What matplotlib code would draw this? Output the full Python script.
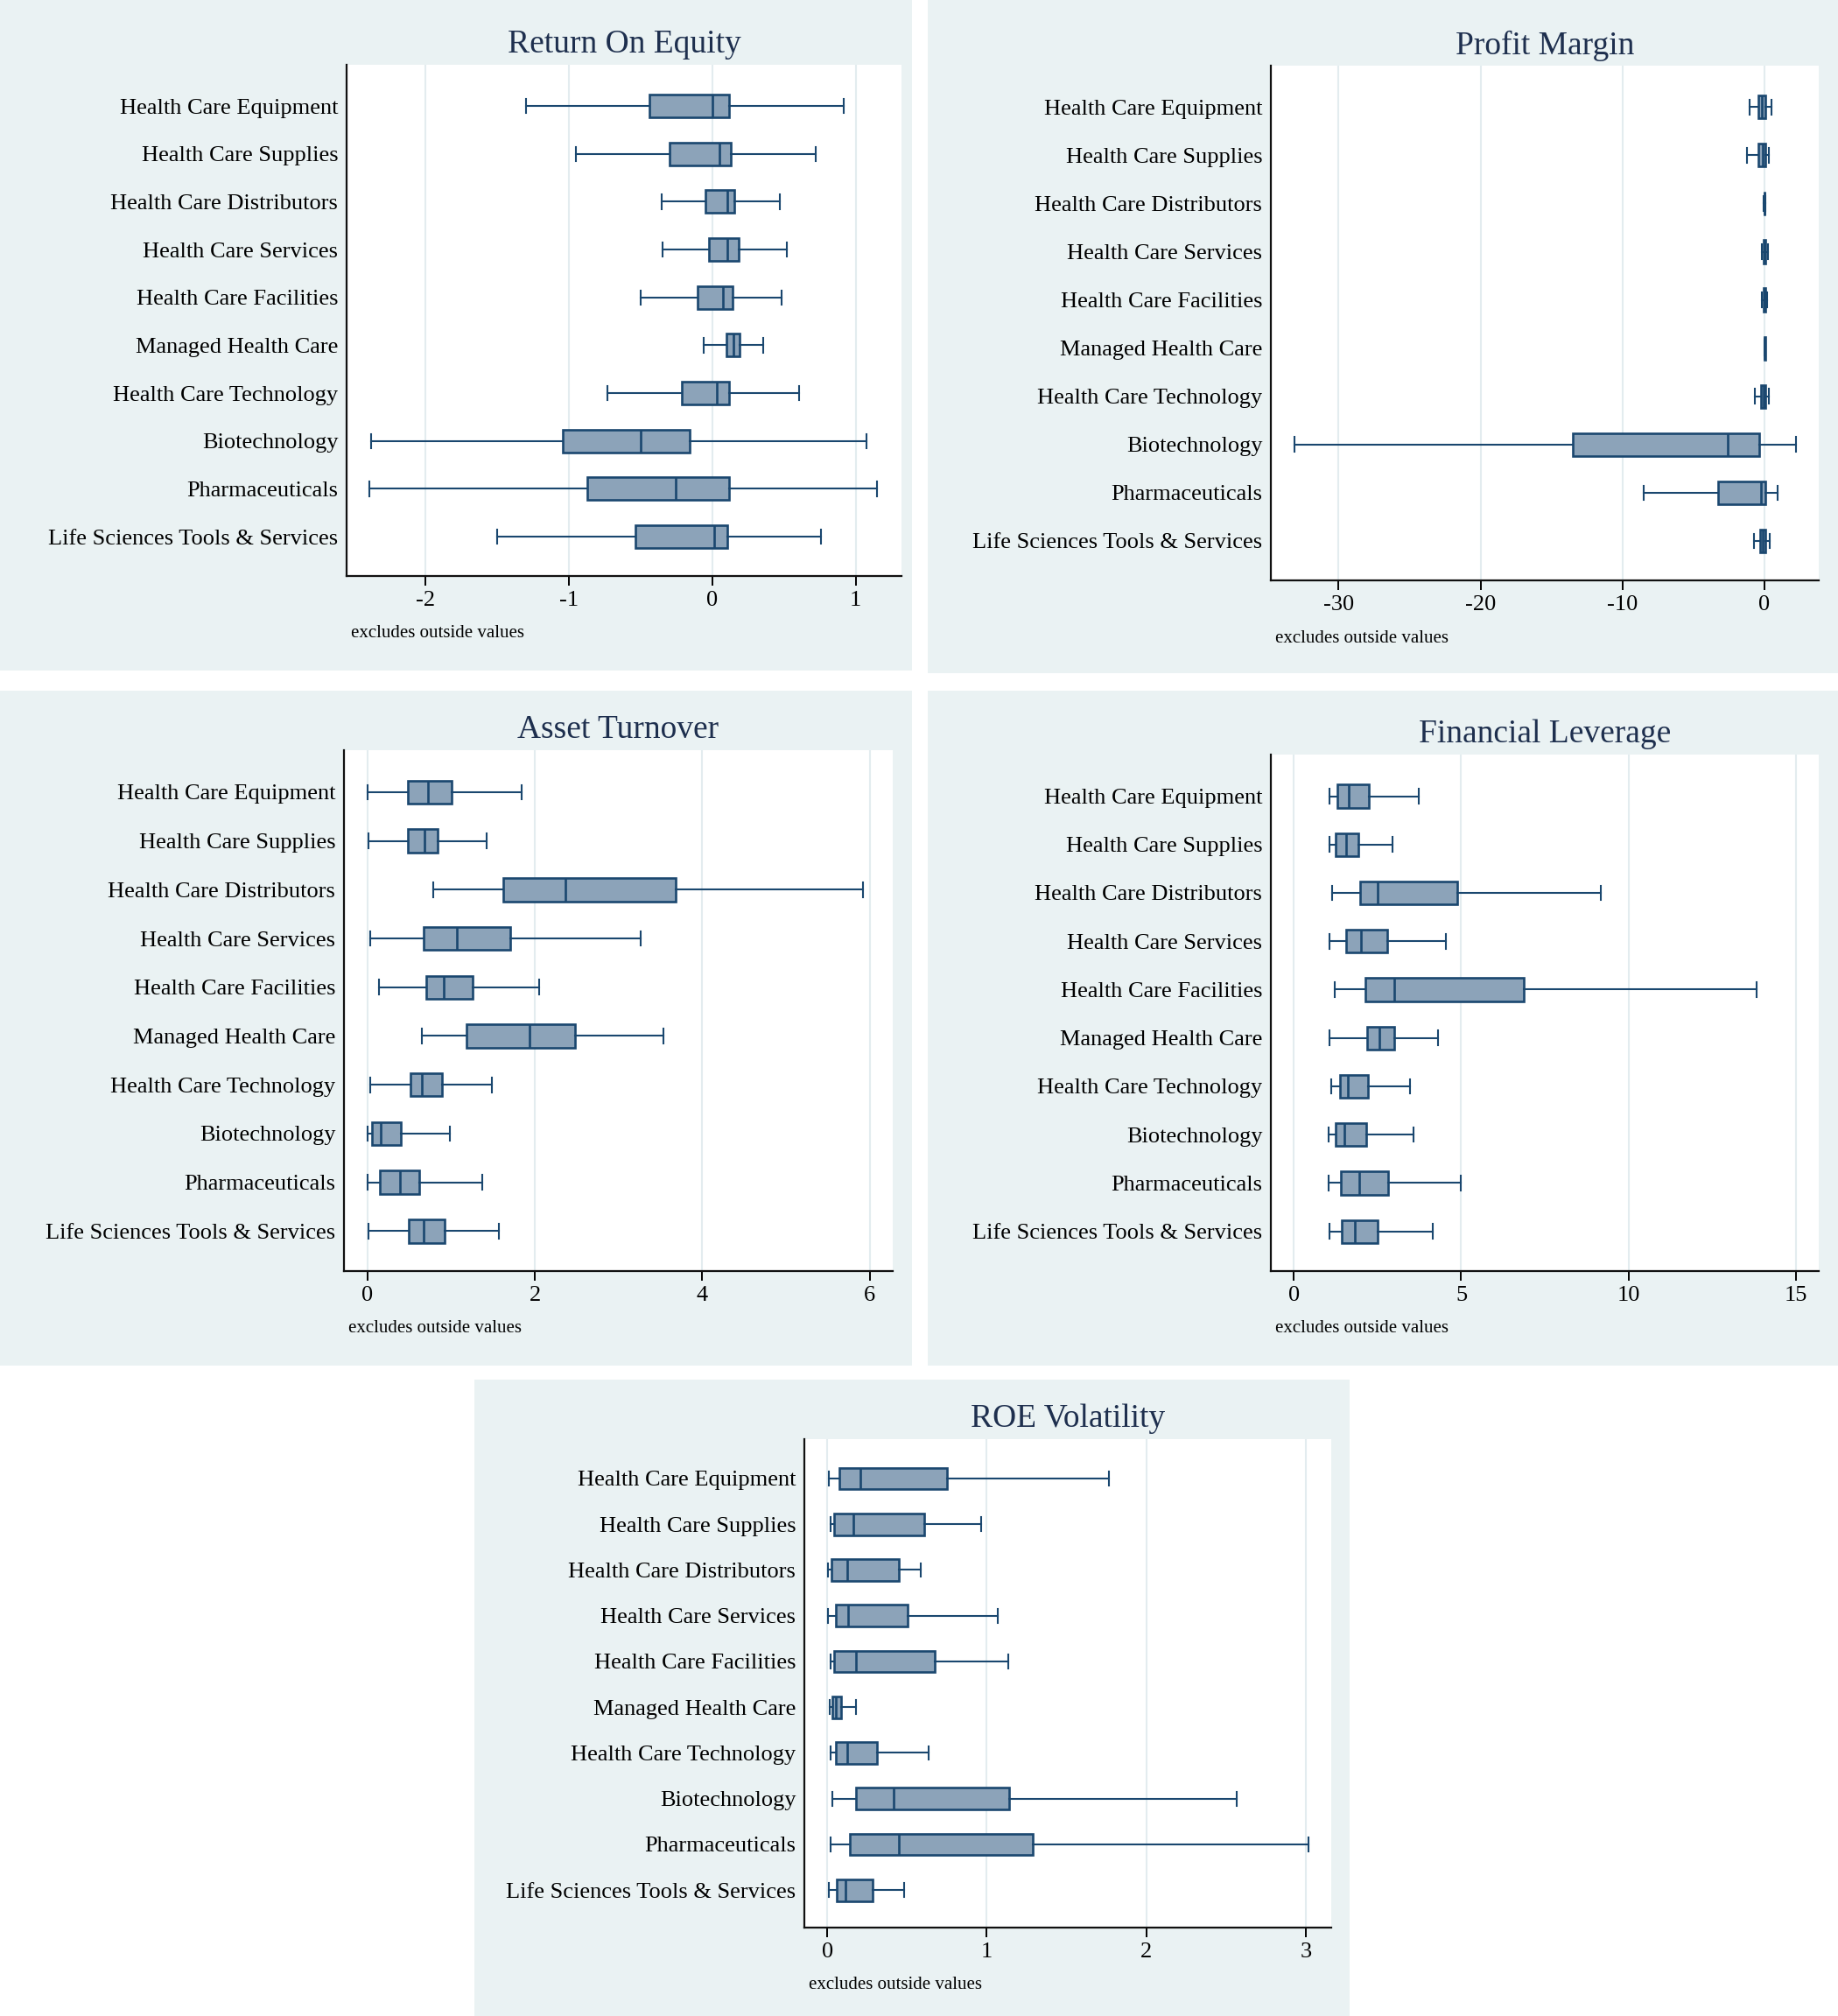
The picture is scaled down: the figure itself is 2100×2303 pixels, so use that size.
import matplotlib
matplotlib.use("Agg")
import matplotlib.pyplot as plt
from matplotlib.patches import Rectangle

plt.rcParams['font.family'] = ['Liberation Serif', 'DejaVu Serif']

W, H = 2100, 2303

industries = [
    "Health Care Equipment", "Health Care Supplies", "Health Care Distributors",
    "Health Care Services", "Health Care Facilities", "Managed Health Care",
    "Health Care Technology", "Biotechnology", "Pharmaceuticals",
    "Life Sciences Tools & Services",
]

# per industry: lower whisker, q1, median, q3, upper whisker
roe_lo  = [-1.30, -0.95, -0.35, -0.345, -0.50, -0.062, -0.73, -2.38, -2.39, -1.50]
roe_q1  = [-0.44, -0.30, -0.045, -0.02, -0.10, 0.099, -0.21, -1.044, -0.87, -0.534]
roe_med = [0.00, 0.049, 0.103, 0.103, 0.074, 0.148, 0.029, -0.50, -0.255, 0.012]
roe_q3  = [0.115, 0.127, 0.156, 0.185, 0.144, 0.193, 0.119, -0.16, 0.115, 0.107]
roe_hi  = [0.917, 0.723, 0.473, 0.518, 0.481, 0.353, 0.608, 1.077, 1.147, 0.76]

pm_lo  = [-1.08, -1.24, -0.06, -0.20, -0.20, -0.03, -0.66, -33.1, -8.5, -0.75]
pm_q1  = [-0.41, -0.41, -0.01, -0.08, -0.08, 0.00, -0.25, -13.5, -3.3, -0.29]
pm_med = [-0.17, -0.12, 0.01, 0.00, 0.02, 0.02, -0.05, -2.6, -0.25, -0.12]
pm_q3  = [0.04, 0.04, 0.025, 0.06, 0.06, 0.03, 0.08, -0.37, 0.04, 0.08]
pm_hi  = [0.50, 0.33, 0.07, 0.25, 0.17, 0.06, 0.29, 2.2, 0.91, 0.37]

at_lo  = [0.0, 0.014, 0.79, 0.03, 0.134, 0.655, 0.03, 0.0, 0.0, 0.014]
at_q1  = [0.48, 0.486, 1.62, 0.67, 0.705, 1.18, 0.51, 0.05, 0.148, 0.49]
at_med = [0.72, 0.68, 2.36, 1.07, 0.91, 1.94, 0.65, 0.155, 0.39, 0.67]
at_q3  = [1.01, 0.84, 3.68, 1.71, 1.26, 2.48, 0.89, 0.40, 0.62, 0.92]
at_hi  = [1.84, 1.42, 5.92, 3.26, 2.05, 3.54, 1.49, 0.98, 1.37, 1.57]

fl_lo  = [1.07, 1.07, 1.14, 1.06, 1.21, 1.06, 1.11, 1.04, 1.04, 1.06]
fl_q1  = [1.30, 1.25, 1.97, 1.55, 2.13, 2.20, 1.39, 1.25, 1.41, 1.44]
fl_med = [1.65, 1.55, 2.50, 2.00, 2.99, 2.55, 1.62, 1.50, 1.94, 1.81]
fl_q3  = [2.25, 1.92, 4.89, 2.80, 6.87, 3.01, 2.22, 2.15, 2.82, 2.50]
fl_hi  = [3.73, 2.94, 9.17, 4.54, 13.82, 4.31, 3.47, 3.57, 4.98, 4.14]

rv_lo  = [0.007, 0.018, 0.004, 0.004, 0.018, 0.015, 0.022, 0.033, 0.018, 0.007]
rv_q1  = [0.074, 0.044, 0.026, 0.052, 0.044, 0.030, 0.052, 0.181, 0.140, 0.059]
rv_med = [0.207, 0.166, 0.125, 0.133, 0.181, 0.055, 0.125, 0.417, 0.450, 0.114]
rv_q3  = [0.753, 0.609, 0.447, 0.506, 0.675, 0.085, 0.314, 1.14, 1.29, 0.284]
rv_hi  = [1.764, 0.963, 0.587, 1.07, 1.133, 0.181, 0.638, 2.565, 3.02, 0.483]

navy = '#1a476f'
fill = '#8ca3b9'
bgcol = '#eaf2f3'
gridcol = '#e3ecef'

fig = plt.figure(figsize=(W / 100, H / 100), dpi=100)


def panel(bg, plot, title, lo, q1, med, q3, hi, xlim, ticks):
    bx0, by0, bx1, by1 = bg
    fig.patches.append(Rectangle((bx0 / W, 1 - by1 / H), (bx1 - bx0) / W, (by1 - by0) / H,
                                 transform=fig.transFigure, facecolor=bgcol,
                                 edgecolor='none', zorder=-5))
    l, t, r, b = plot
    ax = fig.add_axes([l / W, 1 - b / H, (r - l) / W, (b - t) / H])
    ax.set_zorder(2)
    ax.set_facecolor('white')
    stats = []
    for i in range(len(industries)):
        stats.append(dict(whislo=lo[i], q1=q1[i], med=med[i], q3=q3[i],
                          whishi=hi[i], fliers=[]))
    ax.bxp(stats, positions=range(1, 11), orientation='horizontal', widths=0.475,
           capwidths=0.30, showfliers=False, patch_artist=True,
           boxprops=dict(facecolor=fill, edgecolor=navy, linewidth=1.9),
           medianprops=dict(color=navy, linewidth=1.9),
           whiskerprops=dict(color=navy, linewidth=1.5),
           capprops=dict(color=navy, linewidth=1.5))
    ax.set_xlim(*xlim)
    ax.set_ylim(10.82, 0.14)
    ax.set_xticks(ticks)
    ax.set_xticklabels([str(v) for v in ticks])
    ax.set_yticks(range(1, 11))
    ax.set_yticklabels(industries, fontsize=19)
    ax.xaxis.grid(True, color=gridcol, linewidth=1.5, zorder=0)
    ax.set_axisbelow(True)
    ax.tick_params(axis='x', length=8, width=1.4, pad=4.5, labelsize=19, direction='out')
    ax.tick_params(axis='y', length=0, pad=7)
    for s in ['top', 'right']:
        ax.spines[s].set_visible(False)
    for s in ['left', 'bottom']:
        ax.spines[s].set_linewidth(1.6)
        ax.spines[s].set_color('#111111')
    fig.text((l + r) / 2 / W, 1 - (t - 23) / H, title, ha='center', va='center',
             fontsize=27, color='#1e2f4e')
    fig.text((l + 5) / W, 1 - (b + 66) / H, "excludes outside values",
             ha='left', va='center', fontsize=15)
    return ax


panel((0, 0, 1042, 766), (396, 74, 1030, 658), "Return On Equity",
      roe_lo, roe_q1, roe_med, roe_q3, roe_hi, (-2.55, 1.32), [-2, -1, 0, 1])
panel((1060, 0, 2100, 769), (1452, 75, 2078, 663), "Profit Margin",
      pm_lo, pm_q1, pm_med, pm_q3, pm_hi, (-34.77, 3.82), [-30, -20, -10, 0])
panel((0, 789, 1042, 1560), (393, 857, 1020, 1452), "Asset Turnover",
      at_lo, at_q1, at_med, at_q3, at_hi, (-0.28, 6.275), [0, 2, 4, 6])
panel((1060, 789, 2100, 1560), (1452, 862, 2078, 1452), "Financial Leverage",
      fl_lo, fl_q1, fl_med, fl_q3, fl_hi, (-0.69, 15.69), [0, 5, 10, 15])
panel((542, 1576, 1542, 2303), (919, 1644, 1521, 2202), "ROE Volatility",
      rv_lo, rv_q1, rv_med, rv_q3, rv_hi, (-0.144, 3.16), [0, 1, 2, 3])

fig.savefig("out.png", dpi=100, facecolor='white')
